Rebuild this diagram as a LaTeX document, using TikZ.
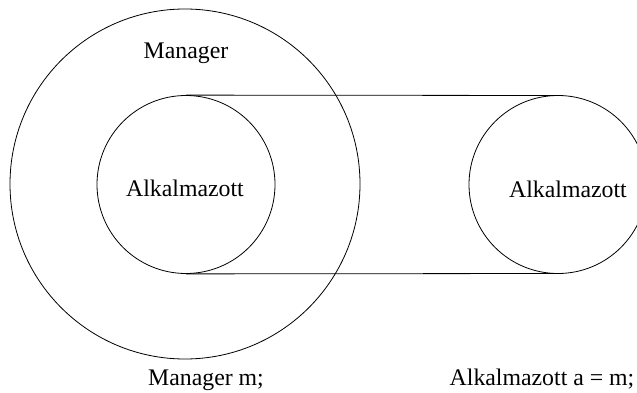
\documentclass[tikz,border=0pt]{standalone}
\usepackage{fontspec}
\setmainfont{Liberation Serif}
\begin{document}
\begin{tikzpicture}[x=1pt,y=-1pt,
  ring/.style={circle,draw,line width=0.8pt,inner sep=0pt},
  lbl/.style={anchor=base,inner sep=0pt,font=\fontsize{23.8}{28}\selectfont},
  edge/.style={line width=0.8pt}]
\useasboundingbox (0,0) rectangle (637,393);
\clip (0,0) rectangle (637,393);
\node[ring,minimum size=350pt] (outer) at (185,184) {};
\node[ring,minimum size=178pt] (inner) at (186,184.5) {};
\node[ring,minimum size=178pt] (right) at (558,184.5) {};
\coordinate (rtop) at (563,95.5);
\coordinate (rbot) at (563,273.5);
\draw[edge] (inner.north) -- (rtop);
\draw[edge] (inner.south) -- (rbot);
\node[lbl] (mgr) at (186,59) {Manager};
\node[lbl] (alk1) at (185,196) {Alkalmazott};
\node[lbl] (alk2) at (568,197) {Alkalmazott};
\node[lbl] (code1) at (206,385) {Manager m;};
\node[lbl] (code2) at (542,385) {Alkalmazott a = m;};
\end{tikzpicture}
\end{document}
